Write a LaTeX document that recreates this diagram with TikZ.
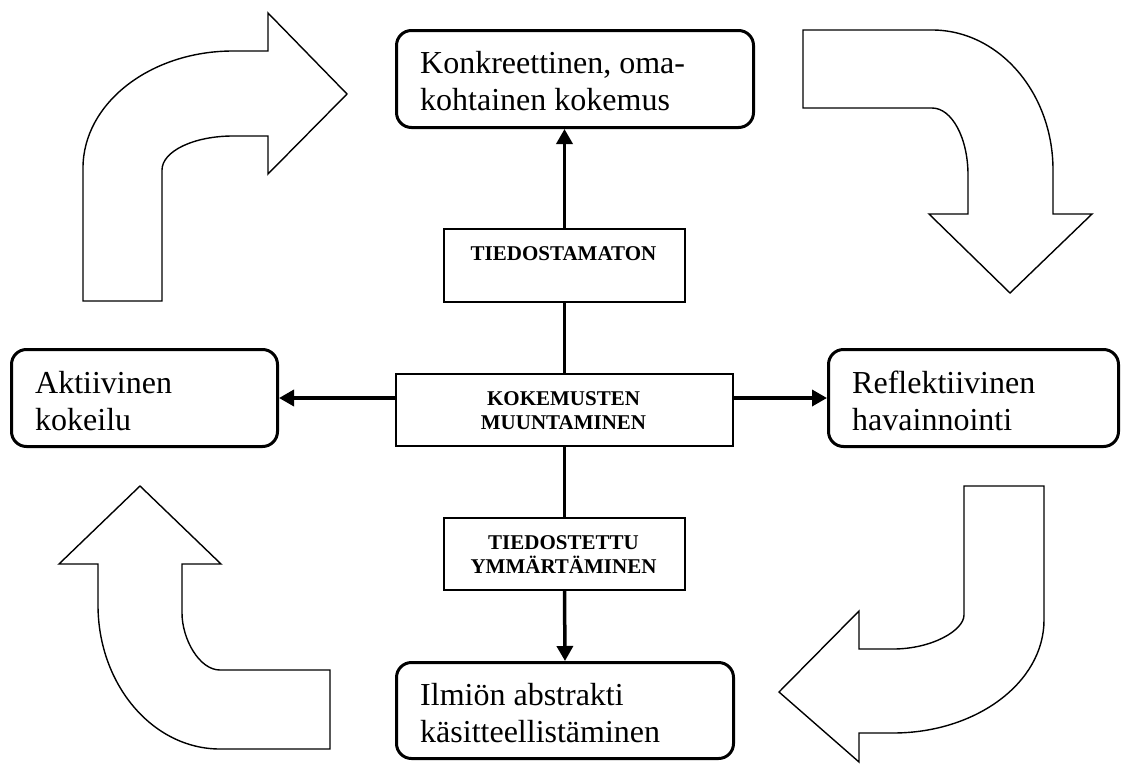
\documentclass[tikz,border=0pt]{standalone}
\usepackage{fontspec}
\setmainfont{Liberation Serif}
\usetikzlibrary{arrows.meta}
\begin{document}
\begin{tikzpicture}[x=1pt,y=-1pt,
  roundbox/.style={draw, line width=3pt, rounded corners=15pt, inner sep=0pt, anchor=north west},
  sqbox/.style={draw, line width=2pt, inner sep=0pt, anchor=north west},
  maintext/.style={inner sep=0pt, anchor=base west, font=\fontsize{32}{37}\selectfont},
  labeltext/.style={inner sep=0pt, anchor=base, font=\fontsize{21}{24}\selectfont\bfseries},
  conn/.style={line width=3.5pt},
  connarrow/.style={conn, -{Triangle[length=15pt,width=16pt]}},
  blockarrow/.style={draw, fill=white, line width=1.4pt, line join=miter}]
\useasboundingbox (0,0) rectangle (1121,771);

% curved block arrows of the cycle
\draw[blockarrow] (83,301) -- (83,168) .. controls (83,103.4) and (150.2,51) .. (233,51)
  -- (268,51) -- (268,13) -- (347,94) -- (268,174) -- (268,136) -- (233,136)
  .. controls (193.8,136) and (162,151.2) .. (162,170) -- (162,301) -- cycle;
\draw[blockarrow] (803,30) -- (932,30) .. controls (998.8,30) and (1053,92.7) .. (1053,170)
  -- (1053,214) -- (1092,214) -- (1010,293) -- (929,214) -- (968,214) -- (968,175)
  .. controls (968,138) and (951.9,108) .. (932,108) -- (803,108) -- cycle;
\draw[blockarrow] (964,486) -- (1044,486) -- (1044,620) .. controls (1044,682.4) and (976.4,733) .. (893,733)
  -- (859,733) -- (859,762) -- (779,692) -- (859,611) -- (859,649) -- (893,649)
  .. controls (932.2,649) and (964,630.2) .. (964,615) -- cycle;
\draw[blockarrow] (140,486) -- (221,564) -- (182,564) -- (182,613)
  .. controls (182,638.5) and (199,670) .. (220,670) -- (330,670) -- (330,749) -- (220,749)
  .. controls (152.7,749) and (98,684.5) .. (98,605) -- (98,564) -- (59,564) -- cycle;

% the four stages
\node[roundbox, minimum width=357pt, minimum height=97pt] (konk) at (395,29) {};
\node[maintext] (konk-t) at (420,73) {\begin{tabular}[t]{@{}l@{}}Konkreettinen, oma-\\kohtainen kokemus\end{tabular}};
\node[roundbox, minimum width=266pt, minimum height=97pt] (akt) at (10,348) {};
\node[maintext] (akt-t) at (35,393) {\begin{tabular}[t]{@{}l@{}}Aktiivinen\\kokeilu\end{tabular}};
\node[roundbox, minimum width=290pt, minimum height=97pt] (refl) at (827,348) {};
\node[maintext] (refl-t) at (852,393) {\begin{tabular}[t]{@{}l@{}}Reflektiivinen\\havainnointi\end{tabular}};
\node[roundbox, minimum width=337pt, minimum height=96pt] (ilm) at (395,661) {};
\node[maintext] (ilm-t) at (420,705) {\begin{tabular}[t]{@{}l@{}}Ilmiön abstrakti\\käsitteellistäminen\end{tabular}};

% central boxes
\node[sqbox, minimum width=241pt, minimum height=73pt] (tdm) at (443,228) {};
\node[labeltext] (tdm-t) at (563.5,260) {TIEDOSTAMATON};
\node[sqbox, minimum width=337pt, minimum height=72pt] (kok) at (395,373) {};
\node[labeltext] (kok-t) at (563.5,405) {\begin{tabular}[t]{@{}c@{}}KOKEMUSTEN\\MUUNTAMINEN\end{tabular}};
\node[sqbox, minimum width=241pt, minimum height=72pt] (tdt) at (443,517) {};
\node[labeltext] (tdt-t) at (563.5,549) {\begin{tabular}[t]{@{}c@{}}TIEDOSTETTU\\YMMÄRTÄMINEN\end{tabular}};

% connectors
\draw[conn] (kok.north) -- (tdm.south);
\draw[connarrow] (tdm.north) -- (tdm.north |- konk.south);
\draw[conn] (kok.south) -- (tdt.north);
\draw[connarrow] (tdt.south) -- (ilm.north);
\draw[connarrow] (kok.west |- akt.east) -- (akt.east);
\draw[connarrow] (kok.east |- refl.west) -- (refl.west);
\end{tikzpicture}
\end{document}
